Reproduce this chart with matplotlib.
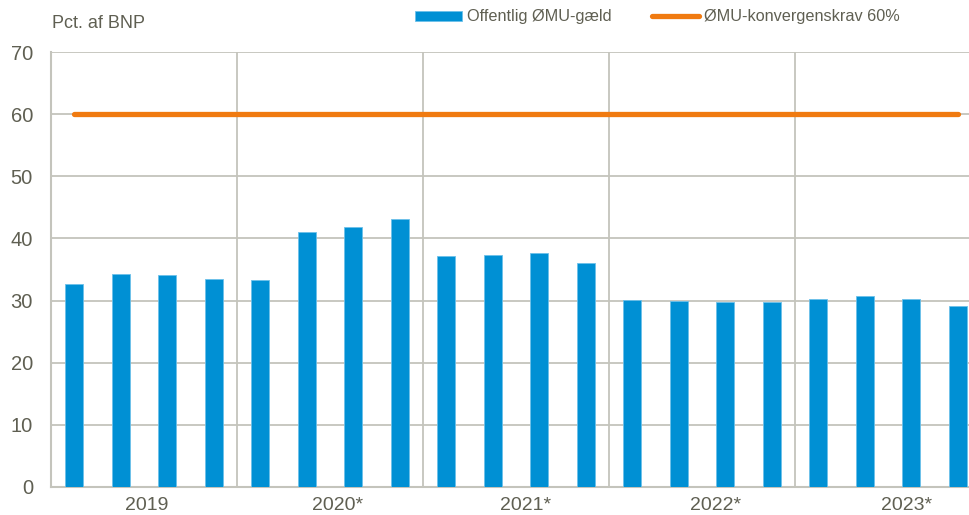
import numpy as np
import matplotlib
matplotlib.use("Agg")
import matplotlib.pyplot as plt
from matplotlib import font_manager

# Data (pct. of GDP, quarterly)
years = ["2019", "2020*", "2021*", "2022*", "2023*"]
debt = [32.7, 34.3, 34.1, 33.5,
        33.3, 41.0, 41.8, 43.1,
        37.1, 37.4, 37.6, 36.0,
        30.1, 30.0, 29.8, 29.8,
        30.2, 30.8, 30.2, 29.2]
limit = 60

# Style
names = {f.name for f in font_manager.fontManager.ttflist}
family = "Liberation Sans Narrow" if "Liberation Sans Narrow" in names else "Liberation Sans"
plt.rcParams["font.family"] = [family, "DejaVu Sans"]
text_col = "#5f5f52"
grid_col = "#c4c4bc"
bar_col  = "#0090d4"
line_col = "#f07a10"
fs = 13

fig = plt.figure(figsize=(9.69, 5.15), dpi=100)
# right edge of the plot area runs past the picture, as in the original
ax = fig.add_axes([51 / 969, 1 - 487 / 515, 930 / 969, 435 / 515])

x = np.arange(len(debt))
bars = ax.bar(x, debt, width=0.39, color=bar_col, edgecolor="#6cc0ea",
              linewidth=0.6, zorder=3, label="Offentlig ØMU-gæld")
line, = ax.plot([x[0], x[-1]], [limit, limit], color=line_col, lw=3.8,
                solid_capstyle="round", zorder=4, label="ØMU-konvergenskrav 60%")

ax.set_xlim(-0.5, len(debt) - 0.5)
ax.set_ylim(0, 70)
ax.set_yticks(range(0, 71, 10))
ax.tick_params(axis="y", length=0, pad=13, labelsize=fs + 1.5, labelcolor=text_col)
ax.set_xticks([])
ax.grid(axis="y", color=grid_col, lw=1.3, zorder=0)
for b in range(4, len(debt), 4):
    ax.axvline(b - 0.5, color=grid_col, lw=1.3, zorder=0)
for s in ["top", "right"]:
    ax.spines[s].set_visible(False)
for s in ["left", "bottom"]:
    ax.spines[s].set_color(grid_col)
    ax.spines[s].set_linewidth(1.5)

# year labels (slightly shifted right, as in the source)
shift = [0.06, 0.16, 0.21, 0.30, 0.39]
for i, (yr, sh) in enumerate(zip(years, shift)):
    ax.text(4 * i + 1.5 + sh, -0.042, yr, transform=ax.get_xaxis_transform(),
            ha="center", va="center", fontsize=fs + 1, color=text_col)

fig.text(52 / 969, 1 - 24 / 515, "Pct. af BNP", ha="left", va="center",
         fontsize=fs, color=text_col)

leg = fig.legend(handles=[bars, line], loc="center left",
                 bbox_to_anchor=(415 / 969, 1 - 17 / 515),
                 ncol=2, frameon=False, fontsize=11.7, handlelength=2.9,
                 handleheight=0.6, handletextpad=0.3, columnspacing=2.5,
                 borderpad=0, borderaxespad=0)
for t in leg.get_texts():
    t.set_color(text_col)

fig.savefig("out.png", dpi=100)
